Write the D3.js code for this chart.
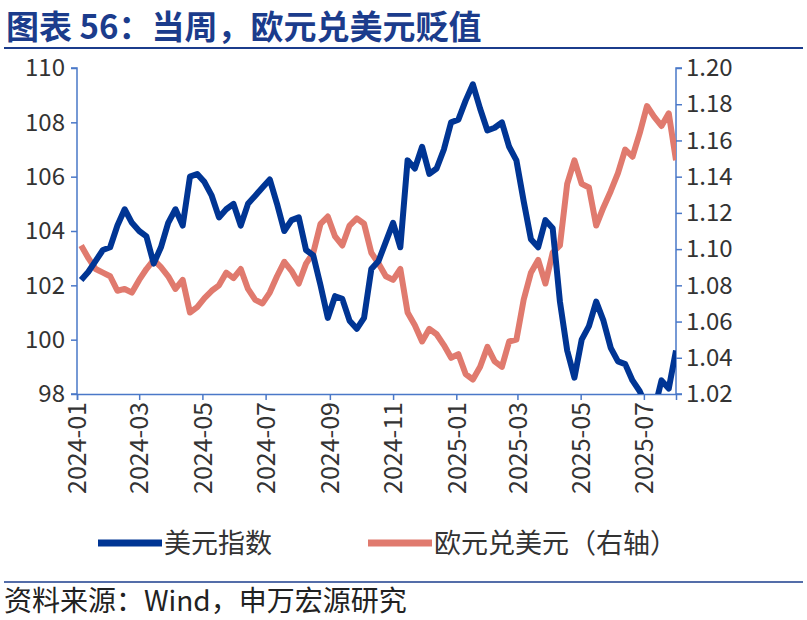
<!DOCTYPE html>
<html><head><meta charset="utf-8">
<script src="https://cdn.jsdelivr.net/npm/d3@7"></script>
<style>body{margin:0;background:#fff}</style></head>
<body><svg id="c" width="807" height="620"></svg>
<script>
const startDate = "2024-01-05";
const dxy = [102.2,102.5,102.9,103.3,103.4,104.2,104.8,104.3,104.0,103.8,102.8,103.4,104.3,104.8,104.2,106.0,106.1,105.8,105.3,104.5,104.8,105.0,104.2,105.0,105.3,105.6,105.9,105.0,104.0,104.4,104.5,103.3,103.1,102.0,100.8,101.6,101.5,100.7,100.4,100.8,102.6,102.9,103.6,104.3,103.4,106.6,106.3,107.1,106.1,106.3,107.0,108.0,108.1,108.8,109.4,108.5,107.7,107.8,108.0,107.1,106.6,105.1,103.7,103.4,104.4,104.1,101.4,99.6,98.6,100.0,100.5,101.4,100.7,99.7,99.2,99.1,98.5,98.1,97.5,97.4,98.5,98.2,99.6];
const eurusd = [1.102,1.095,1.089,1.087,1.085,1.077,1.078,1.076,1.083,1.089,1.094,1.090,1.085,1.078,1.083,1.065,1.068,1.073,1.077,1.080,1.087,1.084,1.089,1.078,1.072,1.070,1.076,1.085,1.093,1.088,1.081,1.092,1.098,1.114,1.118,1.107,1.102,1.113,1.117,1.114,1.098,1.092,1.085,1.083,1.089,1.065,1.058,1.049,1.056,1.053,1.047,1.040,1.042,1.031,1.028,1.035,1.046,1.038,1.035,1.049,1.050,1.072,1.087,1.094,1.081,1.098,1.102,1.136,1.149,1.136,1.134,1.113,1.123,1.132,1.142,1.155,1.151,1.164,1.179,1.173,1.168,1.175,1.149];
const leftTicks = [98,100,102,104,106,108,110];
const rightTicks = [1.02,1.04,1.06,1.08,1.10,1.12,1.14,1.16,1.18,1.20];
const xTicks = ["2024-01","2024-03","2024-05","2024-07","2024-09","2024-11","2025-01","2025-03","2025-05","2025-07"];
const title = "图表 56：当周，欧元兑美元贬值";
const source = "资料来源：Wind，申万宏源研究";
const names = ["美元指数","欧元兑美元（右轴）"];

const svg = d3.select("#c"), F = "'Noto Sans CJK SC','Noto Sans',sans-serif";
const axisC = "#4a78c8", txtC = "#333";
const parse = d3.timeParse("%Y-%m-%d"), pm = d3.timeParse("%Y-%m");
const d0 = parse(startDate);
const dates = dxy.map((_, i) => d3.timeDay.offset(d0, 7 * i));
const x = d3.scaleTime().domain([pm("2024-01"), parse("2025-08-01")]).range([77, 676]);
const yL = d3.scaleLinear().domain([98, 110]).range([394, 68]);
const yR = d3.scaleLinear().domain([1.02, 1.20]).range([394, 68]);

svg.append("text").attr("x", 6).attr("y", 39).attr("font-family", F).attr("font-weight", "bold")
  .attr("font-size", 33).attr("fill", "#1b3c8c").text(title);
svg.append("line").attr("x1", 4).attr("x2", 803).attr("y1", 48).attr("y2", 48).attr("stroke", "#1b3c8c").attr("stroke-width", 2);

svg.append("clipPath").attr("id", "cp").append("rect").attr("x", 77).attr("y", 60).attr("width", 599).attr("height", 334);

const gl = svg.append("g").attr("transform", "translate(77,0)").call(d3.axisLeft(yL).tickValues(leftTicks).tickFormat(d3.format("d")).tickSize(6));
const gr = svg.append("g").attr("transform", "translate(676,0)").call(d3.axisRight(yR).tickValues(rightTicks).tickFormat(d3.format(".2f")).tickSize(6));
const gx = svg.append("g").attr("transform", "translate(0,394)").call(d3.axisBottom(x).tickValues(xTicks.map(pm)).tickFormat(d3.timeFormat("%Y-%m")).tickSize(6));
[gl, gr, gx].forEach(g => {
  g.selectAll("path,line").attr("stroke", axisC).attr("stroke-width", 1.5);
  g.selectAll("text").attr("font-family", F).attr("font-size", 24).attr("fill", txtC);
});
gl.select(".domain").attr("d", "M-6,68H0V394H-6");
gr.select(".domain").attr("d", "M6,68H0V394H6");
gl.selectAll("text").attr("x", -12);
gr.selectAll("text").attr("x", 10);
gx.selectAll("text").attr("transform", "rotate(-90)").attr("text-anchor", "end").attr("x", -8).attr("y", 0).attr("dy", "0.35em").attr("font-size", 25);

const lineL = d3.line().x((d, i) => x(dates[i])).y(d => yL(d));
const lineR = d3.line().x((d, i) => x(dates[i])).y(d => yR(d));
const plot = svg.append("g").attr("clip-path", "url(#cp)");
plot.append("path").datum(eurusd).attr("d", lineR).attr("fill", "none").attr("stroke", "#e07a6e").attr("stroke-width", 6).attr("stroke-linejoin", "round");
plot.append("path").datum(dxy).attr("d", lineL).attr("fill", "none").attr("stroke", "#003594").attr("stroke-width", 6).attr("stroke-linejoin", "round");

const lg = [[98, "#003594", names[0]], [368, "#e07a6e", names[1]]];
lg.forEach(([lx, c, t]) => {
  svg.append("line").attr("x1", lx).attr("x2", lx + 64).attr("y1", 543).attr("y2", 543).attr("stroke", c).attr("stroke-width", 7);
  svg.append("text").attr("x", lx + 66).attr("y", 553).attr("font-family", F).attr("font-size", 27).attr("fill", txtC).text(t);
});
svg.append("line").attr("x1", 4).attr("x2", 803).attr("y1", 582).attr("y2", 582).attr("stroke", "#1b3c8c").attr("stroke-width", 1.5);
svg.append("text").attr("x", 4).attr("y", 611).attr("font-family", F).attr("font-size", 28).attr("fill", "#222").text(source);
</script></body></html>
